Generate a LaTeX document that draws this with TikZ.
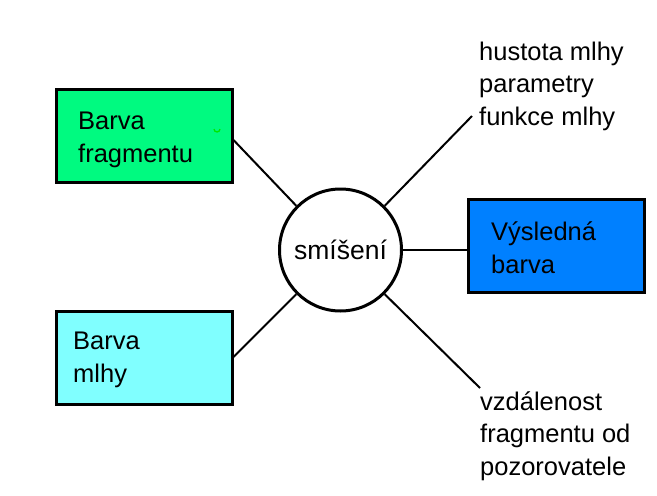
\documentclass[tikz,border=0pt]{standalone}
\usepackage{fontspec}
\setmainfont{Liberation Sans}
\definecolor{fraggreen}{RGB}{0,250,128}
\definecolor{fogcyan}{RGB}{128,255,255}
\definecolor{resblue}{RGB}{0,128,255}
\definecolor{markgreen}{RGB}{0,230,0}
\begin{document}
\begin{tikzpicture}[x=1pt,y=-1pt,
  box/.style={draw=black,line width=3pt,minimum width=176pt,minimum height=93pt,inner sep=0pt},
  lbl/.style={anchor=base west,align=left,inner sep=0pt,font=\fontsize{25.5}{32.5}\selectfont},
  conn/.style={line width=2pt,draw=black}]
\useasboundingbox[fill=white] (0,0) rectangle (657,496);
% boxes
\node[box,fill=fraggreen] (frag) at (144,136) {};
\node[box,fill=fogcyan] (fog) at (144,357.5) {};
\node[box,fill=resblue] (res) at (556.5,246) {};
\node[draw=black,line width=3pt,circle,minimum size=122pt,inner sep=0pt,fill=white,
      font=\fontsize{26.5}{30}\selectfont] (mix) at (340.5,250) {smíšení};
% box texts (anchored at the last line's baseline)
\node[lbl] (fragt) at (78,162) {Barva\\fragmentu};
\node[lbl] (fogt) at (73,382) {Barva\\mlhy};
\node[lbl] (rest) at (491,273) {Výsledná\\barva};
% side texts
\node[lbl] (param) at (479,125) {hustota mlhy\\parametry\\funkce mlhy};
\node[lbl] (dist) at (480,475) {vzdálenost\\fragmentu od\\pozorovatele};
\coordinate (pend) at (472,116);
\coordinate (dend) at (480,388);
% connectors
\draw[conn] (frag.east |- 0,140) -- (mix.135);
\draw[conn] (fog.east |- 0,357) -- (mix.225);
\draw[conn] (mix.east) -- (res.west |- mix.east);
\draw[conn] (mix.45) -- (pend);
\draw[conn] (mix.-45) -- (dend);
% small green mark
\draw[markgreen,line width=1.3pt] (214,129) arc[start angle=180,end angle=360,radius=3pt];
\end{tikzpicture}
\end{document}
